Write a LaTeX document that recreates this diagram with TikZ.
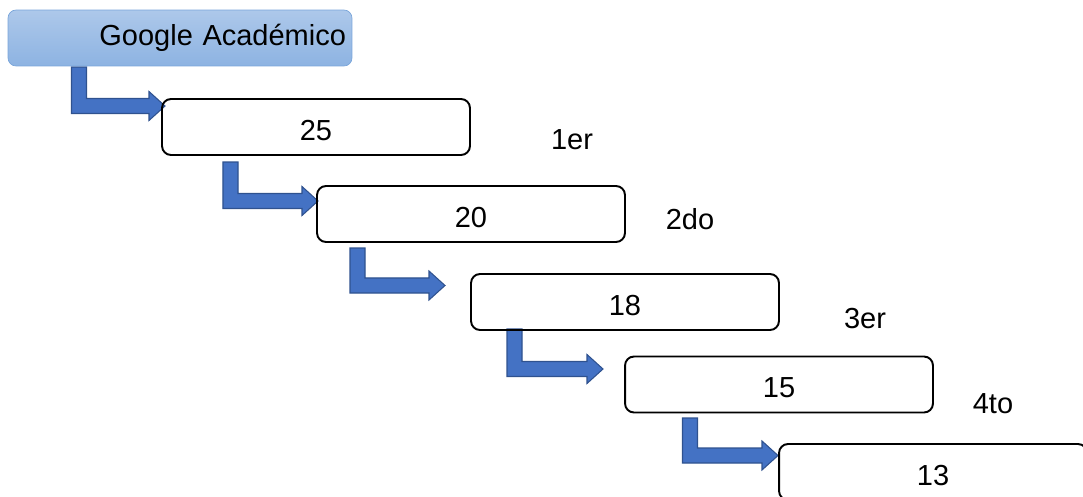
\documentclass[tikz,border=0pt]{standalone}
\usepackage{fontspec}
\setmainfont{Liberation Sans}
\usetikzlibrary{calc}

\definecolor{arrowfill}{HTML}{4472C4}
\definecolor{arrowline}{HTML}{2F528F}
\definecolor{gtop}{HTML}{ADC8EA}
\definecolor{gbot}{HTML}{8DB3E2}
\definecolor{gline}{HTML}{79A5DA}

\tikzset{
  rankbox/.style={draw= black, line width= 1.1pt, rounded corners= 0.18cm,
    minimum width= 6.16cm, minimum height= 1.12cm,
    text height= 0.536cm, text depth= 0pt},
  sourcebox/.style={draw= gline, top color= gtop, bottom color= gbot,
    rounded corners= 0.16cm, minimum width= 6.88cm, minimum height= 1.12cm,
    text width= 6.64cm, align= right, inner xsep= 0.12cm},
  bentarrow/.style={draw= arrowline, fill= arrowfill, line width= 0.6pt, line join= miter}
}

% bent block arrow: stem top -> tip
\newcommand{\bentarrow}[2]{%
  \draw[bentarrow] let \p1= (#1), \p2= (#2) in
    (\x1-4.27pt,\y1) -- (\x1+4.27pt,\y1) -- (\x1+4.27pt,\y2+4.27pt)
    -- (\x2-9.1pt,\y2+4.27pt) -- (\x2-9.1pt,\y2+8.25pt) -- (\x2,\y2)
    -- (\x2-9.1pt,\y2-8.25pt) -- (\x2-9.1pt,\y2-4.27pt)
    -- (\x1-4.27pt,\y2-4.27pt) -- cycle;}

\begin{document}
\begin{tikzpicture}[x= 0.02cm, y= -0.02cm, font= \fontsize{16.5}{20}\selectfont]
  \clip (0,0) rectangle (1083,497);

  % arrows
  \coordinate (s1) at (79,67);     \coordinate (t1) at (165,106);
  \coordinate (s2) at (230.5,162); \coordinate (t2) at (318,201);
  \coordinate (s3) at (357.5,248); \coordinate (t3) at (445,285.5);
  \coordinate (s4) at (514.5,329); \coordinate (t4) at (603,369);
  \coordinate (s5) at (690,418);   \coordinate (t5) at (778,455.5);
  \foreach \i in {1,...,5} {\bentarrow{s\i}{t\i}}

  % boxes
  \node[sourcebox] (google) at (180,38) {Google Académico};
  \begin{scope}[every node/.style={rankbox}]
    \node (b25) at (316,127) {25};
    \node (b20) at (471,214) {20};
    \node (b18) at (625,302) {18};
    \node (b15) at (779,384.5) {15};
    \node (b13) at (933,472) {13};
  \end{scope}

  % places
  \node (first) at (572,140) {1er};
  \node (second) at (690,219) {2do};
  \node (third) at (865,319) {3er};
  \node (fourth) at (993,404) {4to};
\end{tikzpicture}
\end{document}
